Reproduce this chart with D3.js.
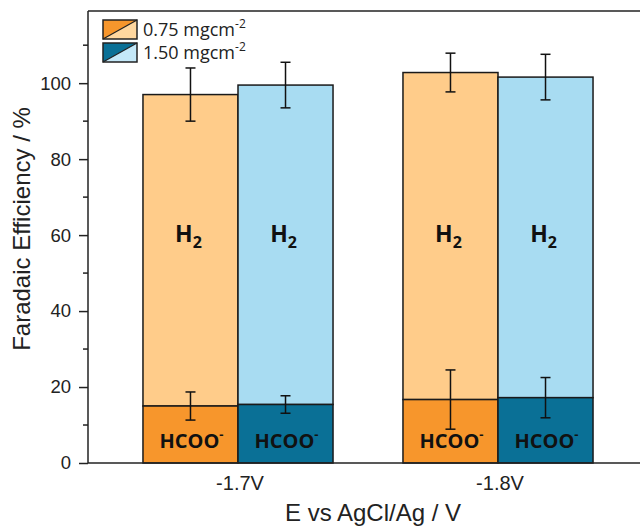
<!DOCTYPE html>
<html>
<head>
<meta charset="utf-8">
<script src="https://cdn.jsdelivr.net/npm/d3@7"></script>
<style>
  body { margin: 0; background: #fff; }
  svg { display: block; }
  .tick-label { font-family: "Liberation Sans", Arial, sans-serif; font-size: 18.5px; fill: #222; }
  .cat-label { font-family: "Liberation Sans", Arial, sans-serif; font-size: 20px; fill: #222; }
  .axis-title { font-family: "Liberation Sans", Arial, sans-serif; font-size: 24px; fill: #222; }
  .in-bar { font-family: "Open Sans", sans-serif; font-weight: bold; fill: #111; }
  .legend-text { font-family: "Open Sans", sans-serif; font-size: 18px; fill: #222; }
</style>
</head>
<body>
<div id="chart"></div>
<script>
// potentials on the x axis
var categories = ["-1.7V", "-1.8V"];
// catalyst loadings
var loadings = ["0.75 mgcm", "1.50 mgcm"];
// total faradaic efficiency (top of bar) and its error
var totalFE = [[97.0, 99.5], [102.8, 101.6]];
var totalErr = [[7.0, 6.0], [5.1, 6.0]];
// formate part (bottom segment) and its error
var formateFE = [[15.0, 15.4], [16.7, 17.2]];
var formateErr = [[3.7, 2.3], [7.8, 5.3]];
var yTicks = [0, 20, 40, 60, 80, 100];
var yMinorTicks = [10, 30, 50, 70, 90, 110];

var darkColors = ["#F7962C", "#0A7096"];
var lightColors = ["#FFCC8A", "#A8DCF2"];
var legendLight = ["#FFD79F", "#C4E8F8"];

var width = 640, height = 528;
var margin = {left: 88, top: 11, bottom: 463};

var svg = d3.select("#chart").append("svg").attr("width", width).attr("height", height);

var y = d3.scaleLinear().domain([0, 119]).range([margin.bottom, margin.top]);
var x0 = d3.scaleBand().domain(categories).range([108, 628]).paddingInner(0.269).paddingOuter(0.1345);
var x1 = d3.scaleBand().domain(d3.range(loadings.length)).range([0, x0.bandwidth()]);

// flatten into bar records
var bars = [];
categories.forEach(function(c, i) {
    loadings.forEach(function(l, j) {
        bars.push({cat: c, s: j, total: totalFE[i][j], tErr: totalErr[i][j], hcoo: formateFE[i][j], hErr: formateErr[i][j]});
    });
});

var g = svg.append("g");
var barX = function(d) { return x0(d.cat) + x1(d.s); };
var barMid = function(d) { return barX(d) + x1.bandwidth() / 2; };

// light (H2) segment from formate up to total
g.selectAll("rect.h2").data(bars).enter().append("rect")
    .attr("class", "h2")
    .attr("x", barX)
    .attr("width", x1.bandwidth())
    .attr("y", function(d) { return y(d.total); })
    .attr("height", function(d) { return y(d.hcoo) - y(d.total); })
    .attr("fill", function(d) { return lightColors[d.s]; })
    .attr("stroke", "#1a1a1a").attr("stroke-width", 1.5);

// dark (HCOO-) segment
g.selectAll("rect.hcoo").data(bars).enter().append("rect")
    .attr("class", "hcoo")
    .attr("x", barX)
    .attr("width", x1.bandwidth())
    .attr("y", function(d) { return y(d.hcoo); })
    .attr("height", function(d) { return y(0) - y(d.hcoo); })
    .attr("fill", function(d) { return darkColors[d.s]; })
    .attr("stroke", "#1a1a1a").attr("stroke-width", 1.5);

// error bars
function errorBars(cls, val, err) {
    var eg = g.selectAll("g." + cls).data(bars).enter().append("g").attr("class", cls)
        .attr("stroke", "#111").attr("stroke-width", 1.5);
    eg.append("line")
        .attr("x1", barMid).attr("x2", barMid)
        .attr("y1", function(d) { return y(d[val] - d[err]); })
        .attr("y2", function(d) { return y(d[val] + d[err]); });
    [-1, 1].forEach(function(sign) {
        eg.append("line")
            .attr("x1", function(d) { return barMid(d) - 5; })
            .attr("x2", function(d) { return barMid(d) + 5; })
            .attr("y1", function(d) { return y(d[val] + sign * d[err]); })
            .attr("y2", function(d) { return y(d[val] + sign * d[err]); });
    });
}
errorBars("err-total", "total", "tErr");
errorBars("err-hcoo", "hcoo", "hErr");

// H2 labels
var h2 = g.selectAll("text.h2lab").data(bars).enter().append("text")
    .attr("class", "in-bar")
    .attr("x", function(d) { return barMid(d) - 2; })
    .attr("y", 242)
    .attr("text-anchor", "middle")
    .style("font-size", "23px");
h2.append("tspan").text("H");
h2.append("tspan").attr("dy", 6).style("font-size", "16px").text("2");

// HCOO- labels
var hc = g.selectAll("text.hclab").data(bars).enter().append("text")
    .attr("class", "in-bar")
    .attr("x", function(d) { return barMid(d) + 1; })
    .attr("y", 448)
    .attr("text-anchor", "middle")
    .style("font-size", "20px");
hc.append("tspan").text("HCOO");
hc.append("tspan").attr("dy", -9).style("font-size", "13px").text("-");

// axes lines
svg.append("line").attr("x1", margin.left).attr("x2", width).attr("y1", y(0)).attr("y2", y(0))
    .attr("stroke", "#222").attr("stroke-width", 1.5);
svg.append("line").attr("x1", margin.left).attr("x2", width).attr("y1", margin.top).attr("y2", margin.top)
    .attr("stroke", "#222").attr("stroke-width", 1.5);

var yAxis = d3.axisLeft(y).tickValues(yTicks).tickSize(9).tickPadding(8);
var ya = svg.append("g").attr("transform", "translate(" + margin.left + ",0)").call(yAxis);
ya.attr("font-size", null).attr("font-family", null);
ya.select(".domain").attr("stroke", "#222").attr("stroke-width", 1.5).attr("d", "M0," + margin.top + "V" + y(0));
ya.selectAll(".tick line").attr("stroke", "#222").attr("stroke-width", 1.5);
ya.selectAll(".tick text").attr("class", "tick-label").attr("fill", null);

svg.append("g").selectAll("line").data(yMinorTicks).enter().append("line")
    .attr("x1", margin.left - 5).attr("x2", margin.left)
    .attr("y1", function(d) { return y(d); }).attr("y2", function(d) { return y(d); })
    .attr("stroke", "#222").attr("stroke-width", 1.5);

// x category labels
svg.append("g").selectAll("text").data(categories).enter().append("text")
    .attr("class", "cat-label")
    .attr("x", function(d) { return x0(d) + x0.bandwidth() / 2 + 2; })
    .attr("y", 490)
    .attr("text-anchor", "middle")
    .text(function(d) { return d; });

// axis titles
svg.append("text").attr("class", "axis-title")
    .attr("x", 373).attr("y", 521).attr("text-anchor", "middle")
    .text("E vs AgCl/Ag / V");
svg.append("text").attr("class", "axis-title")
    .attr("transform", "translate(30,229) rotate(-90)")
    .attr("text-anchor", "middle")
    .text("Faradaic Efficiency / %");

// legend
var leg = svg.append("g").selectAll("g").data(loadings).enter().append("g")
    .attr("transform", function(d, i) { return "translate(103," + (20 + i * 23) + ")"; });
var pw = 34, ph = 19;
leg.append("rect").attr("width", pw).attr("height", ph)
    .attr("fill", function(d, i) { return legendLight[i]; });
leg.append("path").attr("d", "M0,0H" + pw + "L0," + ph + "Z")
    .attr("fill", function(d, i) { return darkColors[i]; });
leg.append("line").attr("x1", 0).attr("y1", ph).attr("x2", pw).attr("y2", 0)
    .attr("stroke", "#222").attr("stroke-width", 1.2);
leg.append("rect").attr("width", pw).attr("height", ph)
    .attr("fill", "none").attr("stroke", "#222").attr("stroke-width", 1.5);
var lt = leg.append("text").attr("class", "legend-text").attr("x", 40).attr("y", 16);
lt.append("tspan").text(function(d) { return d; });
lt.append("tspan").attr("dy", -8).style("font-size", "12px").text("-2");
</script>
</body>
</html>
